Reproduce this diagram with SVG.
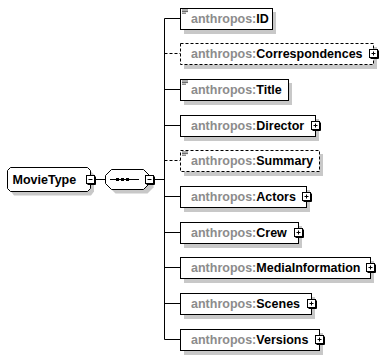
<svg xmlns="http://www.w3.org/2000/svg" width="380" height="356" viewBox="0 0 380 356">
<style>
text{font-family:"Liberation Sans",Arial,sans-serif;font-size:12.5px;font-weight:bold}
.p{fill:#8c8c8c}
.n{fill:#000}
.box{fill:#fff;stroke:#000;stroke-width:1}
.opt{stroke-dasharray:3,2}
.sh{fill:#c8c8c8}
.ln{fill:none;stroke:#000;stroke-width:1}
.exp{fill:#fff;stroke:#000;stroke-width:1}
.ico{fill:none;stroke:#333;stroke-width:0.8}
</style>
<defs>
<g id="plus"><rect class="exp" x="-4" y="-4" width="8" height="8"/><path class="ln" d="M-2,0H2M0,-2V2M5,-3V5H-3"/></g>
<g id="minus"><rect class="exp" x="-4" y="-4" width="8" height="8"/><path class="ln" d="M-2,0H2M5,-3V5H-3"/></g>
</defs>
<g id="connectors">
<path class="ln" d="M94.5,179.5H105.5M153.5,179.5H164.5M164.5,18.5V339.5"/>
<path class="ln" d="M164.5,18.5H180.5M164.5,89.5H180.5M164.5,125.5H180.5M164.5,196.5H180.5M164.5,232.5H180.5M164.5,267.5H180.5M164.5,303.5H180.5M164.5,339.5H180.5"/>
<path class="ln opt" d="M164.5,53.5H180.5M164.5,160.5H180.5"/>
</g>
<g id="MovieType">
<path class="sh" d="M14,171.5H91L94,174.5V191.5L91,195.5H14L11,191.5V174.5Z"/>
<path class="box" d="M10.5,167.5H87.5L90.5,170.5V188.5L87.5,191.5H10.5L7.5,188.5V170.5Z"/>
<text x="12.5" y="184" class="n">MovieType</text>
<use href="#minus" x="90.5" y="179.5"/>
</g>
<g id="sequence">
<path class="sh" d="M115.5,173.5H147.5L153.5,179.5V187.5L147.5,193.5H115.5L109.5,187.5V179.5Z"/>
<path class="box" d="M111.5,169.5H143.5L149.5,175.5V183.5L143.5,189.5H111.5L105.5,183.5V175.5Z"/>
<path class="ln" d="M110,179.5H139"/>
<rect x="116" y="178" width="3" height="3" fill="#000"/>
<rect x="121" y="178" width="3" height="3" fill="#000"/>
<rect x="126" y="178" width="3" height="3" fill="#000"/>
<use href="#minus" x="149.5" y="179.5"/>
</g>
<g id="ID">
<rect class="sh" x="184" y="12" width="92" height="22"/>
<rect class="box" x="180.5" y="8.5" width="92" height="21"/>
<path class="ico" d="M182,10H188M182,11.6H188M182,13.2H186"/>
<text x="191" y="23"><tspan class="p">anthropos:</tspan><tspan class="n">ID</tspan></text>
</g>
<g id="Correspondences">
<rect class="sh" x="184" y="47" width="193" height="22"/>
<rect class="box opt" x="180.5" y="43.5" width="193" height="21"/>
<text x="191" y="58"><tspan class="p">anthropos:</tspan><tspan class="n">Correspondences</tspan></text>
<use href="#plus" x="373.5" y="53.5"/>
</g>
<g id="Title">
<rect class="sh" x="184" y="83" width="108" height="22"/>
<rect class="box" x="180.5" y="79.5" width="108" height="21"/>
<path class="ico" d="M182,81H188M182,82.6H188M182,84.2H186"/>
<text x="191" y="94"><tspan class="p">anthropos:</tspan><tspan class="n">Title</tspan></text>
</g>
<g id="Director">
<rect class="sh" x="184" y="119" width="135" height="22"/>
<rect class="box" x="180.5" y="115.5" width="135" height="21"/>
<text x="191" y="130"><tspan class="p">anthropos:</tspan><tspan class="n">Director</tspan></text>
<use href="#plus" x="315.5" y="125.5"/>
</g>
<g id="Summary">
<rect class="sh" x="184" y="154" width="139" height="22"/>
<rect class="box opt" x="180.5" y="150.5" width="139" height="21"/>
<path class="ico" d="M182,152H188M182,153.6H188M182,155.2H186"/>
<text x="191" y="165"><tspan class="p">anthropos:</tspan><tspan class="n">Summary</tspan></text>
</g>
<g id="Actors">
<rect class="sh" x="184" y="190" width="126" height="22"/>
<rect class="box" x="180.5" y="186.5" width="126" height="21"/>
<text x="191" y="201"><tspan class="p">anthropos:</tspan><tspan class="n">Actors</tspan></text>
<use href="#plus" x="306.5" y="196.5"/>
</g>
<g id="Crew">
<rect class="sh" x="184" y="226" width="118" height="22"/>
<rect class="box" x="180.5" y="222.5" width="118" height="21"/>
<text x="191" y="237"><tspan class="p">anthropos:</tspan><tspan class="n">Crew</tspan></text>
<use href="#plus" x="298.5" y="232.5"/>
</g>
<g id="MediaInformation">
<rect class="sh" x="184" y="261" width="190" height="22"/>
<rect class="box" x="180.5" y="257.5" width="190" height="21"/>
<text x="191" y="272"><tspan class="p">anthropos:</tspan><tspan class="n">MediaInformation</tspan></text>
<use href="#plus" x="370.5" y="267.5"/>
</g>
<g id="Scenes">
<rect class="sh" x="184" y="297" width="131" height="22"/>
<rect class="box" x="180.5" y="293.5" width="131" height="21"/>
<text x="191" y="308"><tspan class="p">anthropos:</tspan><tspan class="n">Scenes</tspan></text>
<use href="#plus" x="311.5" y="303.5"/>
</g>
<g id="Versions">
<rect class="sh" x="184" y="333" width="139" height="22"/>
<rect class="box" x="180.5" y="329.5" width="139" height="21"/>
<text x="191" y="344"><tspan class="p">anthropos:</tspan><tspan class="n">Versions</tspan></text>
<use href="#plus" x="319.5" y="339.5"/>
</g>
</svg>
